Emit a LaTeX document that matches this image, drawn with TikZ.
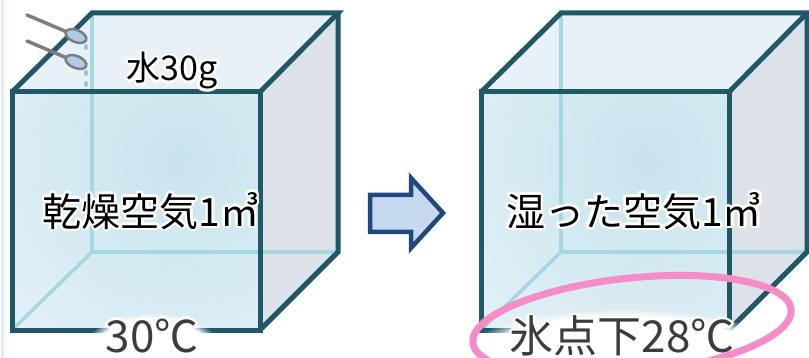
\documentclass[tikz,border=0pt]{standalone}
\usepackage{fontspec}
\newfontfamily\jp{Noto Sans CJK JP}
\usetikzlibrary{fadings}
\definecolor{edgeteal}{RGB}{33,88,104}
\definecolor{hiddenline}{RGB}{166,214,226}
\definecolor{topface}{RGB}{232,241,247}
\definecolor{sideface}{RGB}{220,226,231}
\definecolor{frontin}{RGB}{200,228,237}
\definecolor{frontout}{RGB}{238,245,250}
\definecolor{arrowfill}{RGB}{198,217,241}
\definecolor{arrowedge}{RGB}{31,73,125}
\definecolor{spoon}{RGB}{125,125,125}
\definecolor{spoonbowl}{RGB}{172,204,232}
\definecolor{drop}{RGB}{150,198,222}
\definecolor{ring}{RGB}{245,140,200}
\definecolor{tempgray}{RGB}{60,60,60}
\definecolor{sideline}{RGB}{226,236,243}

% text with a soft white halo behind it
\newcommand\glowlabel[5]{%
  \foreach \a in {0,30,...,330}{%
    \node[font=#3, text=white, shift={(\a:2.6)}] at (#2) {#5};}
  \node[font=#3, text=#4] (#1) at (#2) {#5};}

\tikzset{
  edgeline/.style={draw=edgeteal, line width=5pt},
  backline/.style={draw=hiddenline, line width=3.5pt},
  glasscube/.pic={
    \fill[topface] (12,92) -- (92,13) -- (338,13) -- (260,92) -- cycle;
    \fill[sideface] (260,92) -- (338,13) -- (338,252) -- (260,330) -- cycle;
    \begin{scope}
      \clip (12,92) rectangle (260,330);
      \shade[inner color=frontin, outer color=frontout] (178,160) circle (330pt);
    \end{scope}
    \draw[backline] (92,13) -- (92,252) -- (338,252);
    \draw[backline] (92,252) -- (12,330);
    \draw[edgeline] (12,92) rectangle (260,330);
    \draw[edgeline] (12,92) -- (92,13) -- (338,13) -- (260,92);
    \draw[edgeline] (338,13) -- (338,252) -- (260,330);
  }
}

\begin{document}
\begin{tikzpicture}[x=1pt,y=-1pt]
\useasboundingbox (0,0) rectangle (809,358);
\fill[white] (0,0) rectangle (809,358);
\draw[sideline, line width=3pt] (2.5,0) -- (2.5,358);

% the two glass boxes
\pic at (0,0) {glasscube};
\pic at (469,0) {glasscube};

% spoons pouring water
\foreach \yy in {0,26}{
  \begin{scope}[yshift=-\yy pt]
    \draw[spoon, line width=3.5pt, line cap=round] (27,15) -- (67,32);
    \filldraw[fill=spoonbowl, draw=spoon, line width=2.5pt, rotate around={-22:(76,36)}]
      (76,36) ellipse [x radius=11pt, y radius=6pt];
  \end{scope}}
\foreach \dy in {47,73,84}{
  \fill[drop] (86,\dy) ellipse [x radius=2.2pt, y radius=3pt];}

% soft white patches behind the temperature labels
\fill[white, path fading=circle with fuzzy edge 20 percent] (152,345) ellipse [x radius=66pt, y radius=32pt];
\fill[white, path fading=circle with fuzzy edge 20 percent] (623,345) ellipse [x radius=150pt, y radius=36pt];

% arrow between the boxes
\filldraw[fill=arrowfill, draw=arrowedge, line width=4.5pt, line join=miter]
  (370,195) -- (411,195) -- (411,178) -- (443,213) -- (411,248) -- (411,232) -- (370,232) -- cycle;

% labels
\glowlabel{water}{172,71}{\jp\fontsize{34pt}{38pt}\selectfont}{black}{水30g}
\glowlabel{dryair}{151,211}{\jp\fontsize{39pt}{42pt}\selectfont}{black}{乾燥空気1㎥}
\glowlabel{wetair}{634,211}{\jp\fontsize{39pt}{42pt}\selectfont}{black}{湿った空気1㎥}
\glowlabel{warm}{152,336}{\jp\fontsize{44pt}{48pt}\selectfont}{tempgray}{30℃}
\glowlabel{cold}{622,336}{\jp\fontsize{44pt}{48pt}\selectfont}{tempgray}{氷点下28℃}

% highlight ring around the cold temperature
\draw[ring, line width=7pt, rotate around={6:(632,326)}]
  (632,326) ellipse [x radius=160pt, y radius=48pt];
\end{tikzpicture}
\end{document}
